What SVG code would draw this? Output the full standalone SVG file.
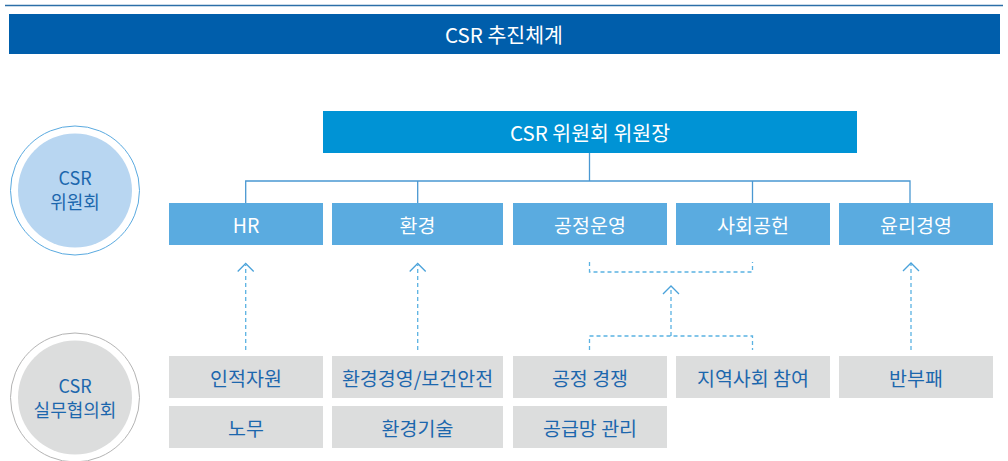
<svg xmlns="http://www.w3.org/2000/svg" width="1008" height="461" viewBox="0 0 1008 461">
<defs>
<style>
text{font-family:"Noto Sans CJK KR","Noto Sans",sans-serif;text-anchor:middle;dominant-baseline:central}
.mid rect{fill:#5aabe0}
.mid text{fill:#fff;font-size:19.5px}
.bot rect{fill:#dcdddd}
.bot text{fill:#1c67ad;font-size:19.5px}
.circ{fill:#1c67ad;font-size:18px}
.solid{stroke:#4a98d2;stroke-width:1.3;fill:none}
.dash{stroke:#5ab2e2;stroke-width:1.3;fill:none;stroke-dasharray:4 3}
.head{stroke:#4aa2da;stroke-width:1.3;fill:none}
</style>
</defs>
<rect width="1008" height="461" fill="#fff"/>
<line x1="5" y1="5.5" x2="1003" y2="5.5" stroke="#2c6fa8" stroke-width="1.5"/>
<g id="banner"><rect x="9" y="14" width="991" height="40" fill="#005eab"/><text x="504" y="34" fill="#fff" font-size="20.5">CSR 추진체계</text></g>
<g id="circle-committee"><circle cx="75" cy="190.5" r="64.5" fill="#fff" stroke="#5aaae0" stroke-width="1"/><circle cx="75" cy="190.5" r="57" fill="#b8d6f1"/><text class="circ" x="75" y="177">CSR</text><text class="circ" x="75" y="201">위원회</text></g>
<g id="circle-working"><circle cx="75" cy="397.5" r="64.5" fill="#fff" stroke="#b4b4b4" stroke-width="1"/><circle cx="75" cy="397.5" r="57" fill="#dcdddd"/><text class="circ" x="75" y="385">CSR</text><text class="circ" x="75" y="409">실무협의회</text></g>
<g id="chair"><rect x="323" y="111" width="534" height="42" fill="#0093d5"/><text x="590" y="132" fill="#fff" font-size="20.5">CSR 위원회 위원장</text></g>
<g class="mid">
<g id="hr"><rect x="169" y="203" width="154" height="42"/><text x="246" y="224">HR</text></g>
<g id="env"><rect x="332" y="203" width="171" height="42"/><text x="417.5" y="224">환경</text></g>
<g id="fair"><rect x="513" y="203" width="154" height="42"/><text x="590" y="224">공정운영</text></g>
<g id="social"><rect x="676" y="203" width="154" height="42"/><text x="753" y="224">사회공헌</text></g>
<g id="ethics"><rect x="839" y="203" width="154" height="42"/><text x="916" y="224">윤리경영</text></g>
</g>
<g class="bot">
<g id="hrres"><rect x="169" y="356" width="154" height="42"/><text x="246" y="377">인적자원</text></g>
<g id="labor"><rect x="169" y="406" width="154" height="42"/><text x="246" y="427">노무</text></g>
<g id="envmgmt"><rect x="332" y="356" width="171" height="42"/><text x="417.5" y="377">환경경영/보건안전</text></g>
<g id="envtech"><rect x="332" y="406" width="171" height="42"/><text x="417.5" y="427">환경기술</text></g>
<g id="fcomp"><rect x="513" y="356" width="154" height="42"/><text x="590" y="377">공정 경쟁</text></g>
<g id="supply"><rect x="513" y="406" width="154" height="42"/><text x="590" y="427">공급망 관리</text></g>
<g id="community"><rect x="676" y="356" width="154" height="42"/><text x="753" y="377">지역사회 참여</text></g>
<g id="anticorr"><rect x="839" y="356" width="154" height="42"/><text x="916" y="377">반부패</text></g>
</g>
<g id="connectors">
<path class="solid" d="M589.5 153V181M245.7 203V181H910V203M417.7 181V203M752.5 181V203"/>
<path class="dash" d="M245.7 350V265M417.7 350V265M911 350V264"/>
<path class="dash" d="M589.5 262V272H752.5V262M589.5 350V336H752.5V350M671 336V288"/>
<path class="head" d="M237.7 271.5L245.7 263.5L253.7 271.5M409.7 271.5L417.7 263.5L425.7 271.5M903 271L911 263L919 271M663 294L671 286L679 294"/>
</g>
</svg>
